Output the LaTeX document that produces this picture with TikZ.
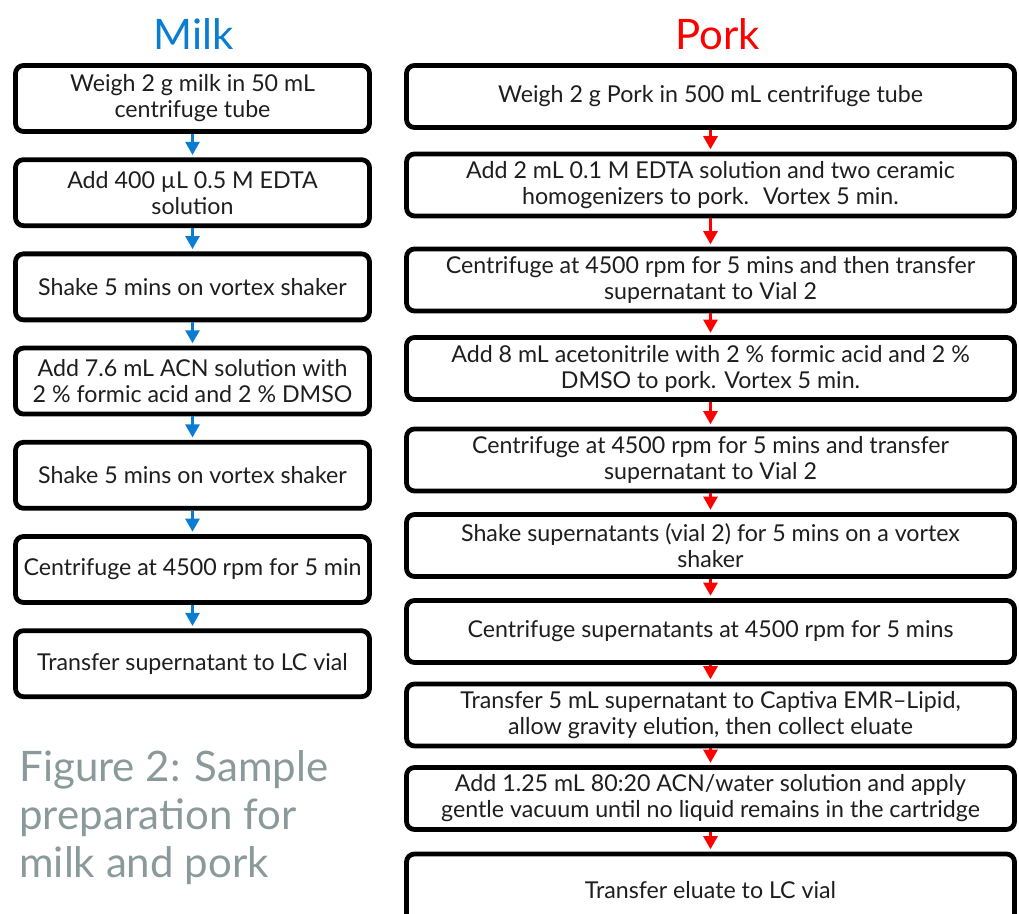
\documentclass[tikz,border=0pt]{standalone}
\usepackage{fontspec}
\setmainfont{Lato}
\usetikzlibrary{arrows.meta}
\definecolor{ink}{HTML}{1E1E1E}
\definecolor{milkblue}{HTML}{0A7DD3}
\definecolor{porkred}{HTML}{FF0000}
\definecolor{capgray}{HTML}{8A9A9B}
\tikzset{
  stepbox/.style={draw=black, line width=2.4pt, rounded corners=4pt, fill=white, text=ink,
    align=center, inner sep=0pt, font=\fontsize{11.6}{13}\selectfont},
  milkbox/.style={stepbox, minimum width=177pt, minimum height=33pt},
  porkbox/.style={stepbox, minimum width=304pt, minimum height=31pt},
  milkarrow/.style={draw=milkblue, line width=1.3pt, -{Triangle[width=7pt,length=6.5pt]}, shorten >=1.2pt},
  porkarrow/.style={draw=porkred, line width=1.3pt, -{Triangle[width=7pt,length=6.5pt]}, shorten >=1.2pt},
  head/.style={anchor=base, font=\fontsize{21}{25}\selectfont},
  caption/.style={anchor=north west, inner sep=0pt, align=left, text=capgray,
    font=\fontsize{21}{24}\selectfont},
}

\begin{document}
\begin{tikzpicture}[x=0.5pt, y=-0.5pt]
  \useasboundingbox (0,0) rectangle (1019,914);

  % milk column
  \node[head, text=milkblue] (milk) at (194,50) {Milk};
  \node[milkbox] (m1) at (192.5,98.5) {Weigh 2 g milk in 50 mL\\centrifuge tube};
  \node[milkbox] (m2) at (192.5,192.7) {Add 400 µL 0.5 M EDTA\\solution};
  \node[milkbox] (m3) at (192.5,286.9) {Shake 5 mins on vortex shaker};
  \node[milkbox] (m4) at (192.5,381.1) {Add 7.6 mL ACN solution with\\2 \% formic acid and 2 \% DMSO};
  \node[milkbox] (m5) at (192.5,475.3) {Shake 5 mins on vortex shaker};
  \node[milkbox] (m6) at (192.5,569.5) {Centrifuge at 4500 rpm for 5 min};
  \node[milkbox] (m7) at (192.5,663.7) {Transfer supernatant to LC vial};

  \draw[milkarrow] (m1) -- (m2);
  \draw[milkarrow] (m2) -- (m3);
  \draw[milkarrow] (m3) -- (m4);
  \draw[milkarrow] (m4) -- (m5);
  \draw[milkarrow] (m5) -- (m6);
  \draw[milkarrow] (m6) -- (m7);

  \node[caption] (cap) at (19,750) {Figure 2: Sample\\preparation for\\milk and pork};

  % pork column
  \node[head, text=porkred] (pork) at (718,50) {Pork};
  \node[porkbox] (p1) at (710.5,96.5) {Weigh 2 g Pork in 500 mL centrifuge tube};
  \node[porkbox] (p2) at (710.5,185) {Add 2 mL 0.1 M EDTA solution and two ceramic\\homogenizers to pork.~ Vortex 5 min.};
  \node[porkbox] (p3) at (710.5,280) {Centrifuge at 4500 rpm for 5 mins and then transfer\\supernatant to Vial 2};
  \node[porkbox] (p4) at (710.5,368.5) {Add 8 mL acetonitrile with 2 \% formic acid and 2 \%\\DMSO to pork. Vortex 5 min.};
  \node[porkbox] (p5) at (710.5,460) {Centrifuge at 4500 rpm for 5 mins and transfer\\supernatant to Vial 2};
  \node[porkbox] (p6) at (710.5,545.5) {Shake supernatants (vial 2) for 5 mins on a vortex\\shaker};
  \node[porkbox] (p7) at (710.5,631.5) {Centrifuge supernatants at 4500 rpm for 5 mins};
  \node[porkbox] (p8) at (710.5,715) {Transfer 5 mL supernatant to Captiva EMR–Lipid,\\allow gravity elution, then collect eluate};
  \node[porkbox] (p9) at (710.5,798.5) {Add 1.25 mL 80:20 ACN/water solution and apply\\gentle vacuum until no liquid remains in the cartridge};
  \node[porkbox, minimum height=36pt] (p10) at (710.5,890) {Transfer eluate to LC vial};

  \draw[porkarrow] (p1) -- (p2);
  \draw[porkarrow] (p2) -- (p3);
  \draw[porkarrow] (p3) -- (p4);
  \draw[porkarrow] (p4) -- (p5);
  \draw[porkarrow] (p5) -- (p6);
  \draw[porkarrow] (p6) -- (p7);
  \draw[porkarrow] (p7) -- (p8);
  \draw[porkarrow] (p8) -- (p9);
  \draw[porkarrow] (p9) -- (p10);
\end{tikzpicture}
\end{document}
